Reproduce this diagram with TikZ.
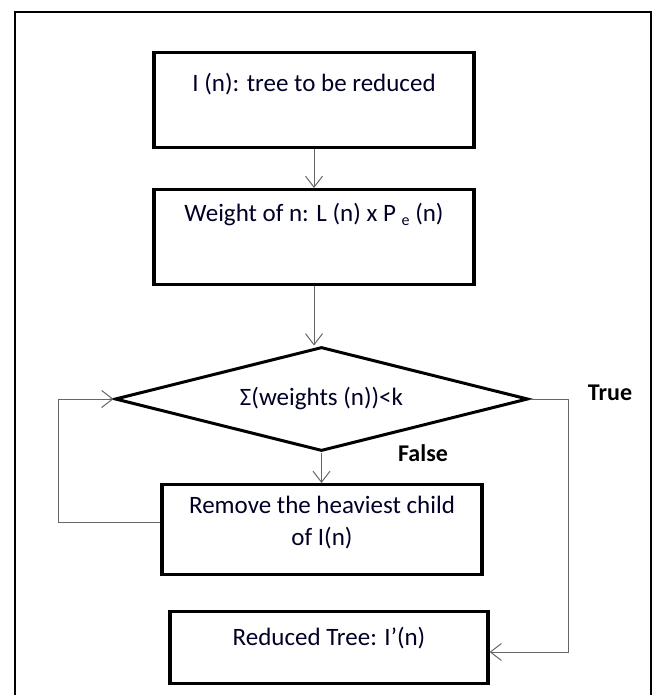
\documentclass[tikz,border=0pt]{standalone}
\usepackage{fontspec}
\setmainfont{Carlito}
\usetikzlibrary{arrows.meta,shapes.geometric}
\tikzset{
    x=1pt,y=-1pt,
    txt/.style={font=\fontsize{25}{32}\selectfont, text=black!85!blue},
    stepbox/.style={txt, draw, line width=3.2pt, inner sep=0pt, anchor=north, align=center},
    decision/.style={txt, draw, diamond, line width=3pt, inner sep=0pt, shape aspect=4,
        minimum width=413pt, minimum height=104pt},
    flow/.style={draw=black!60, line width=1pt, -{Straight Barb[length=11pt,width=17pt]}},
    answer/.style={font=\fontsize{24}{24}\selectfont\bfseries}
}
\begin{document}
\begin{tikzpicture}
        \useasboundingbox (0,0) rectangle (654,695);
        % outer frame
        \draw[line width=2.4pt] (15,700) -- (15,12) -- (651,12) -- (651,700);
        % boxes
        \node[stepbox, minimum width=320pt, text height=39pt, text depth=56pt] (reduce) at (314,51) {I (n): tree to be reduced};
        \node[stepbox, minimum width=320pt, text height=32pt, text depth=63pt] (weight) at (314,188) {Weight of n: L (n) x P \raisebox{-4pt}{\fontsize{16}{16}\selectfont e} (n)};
        \node[decision] (test) at (321.5,399) {Σ(weights (n))<k};
        \node[stepbox, minimum width=320pt, text height=61pt, text depth=29pt] (remove) at (322,483) {Remove the heaviest child\\of I(n)};
        \node[stepbox, minimum width=318pt, text height=34pt, text depth=38pt] (result) at (329,610) {Reduced Tree: I’(n)};
        % labels
        \node[answer] (true) at (610,393) {True};
        \node[answer] (false) at (423,453) {False};
        % connectors
        \coordinate (back) at (58,522);
        \coordinate (turn) at (568,652);
        \draw[flow] (reduce.south) -- (weight.north);
        \draw[flow] (weight.south) -- (weight.south |- test.north);
        \draw[flow] (test.south) -- (test.south |- remove.north);
        \draw[flow] (remove.west |- back) -- (back) |- (test.west);
        \draw[flow] (test.east) -| (turn) -- (result.east |- turn);
    \end{tikzpicture}
\end{document}
